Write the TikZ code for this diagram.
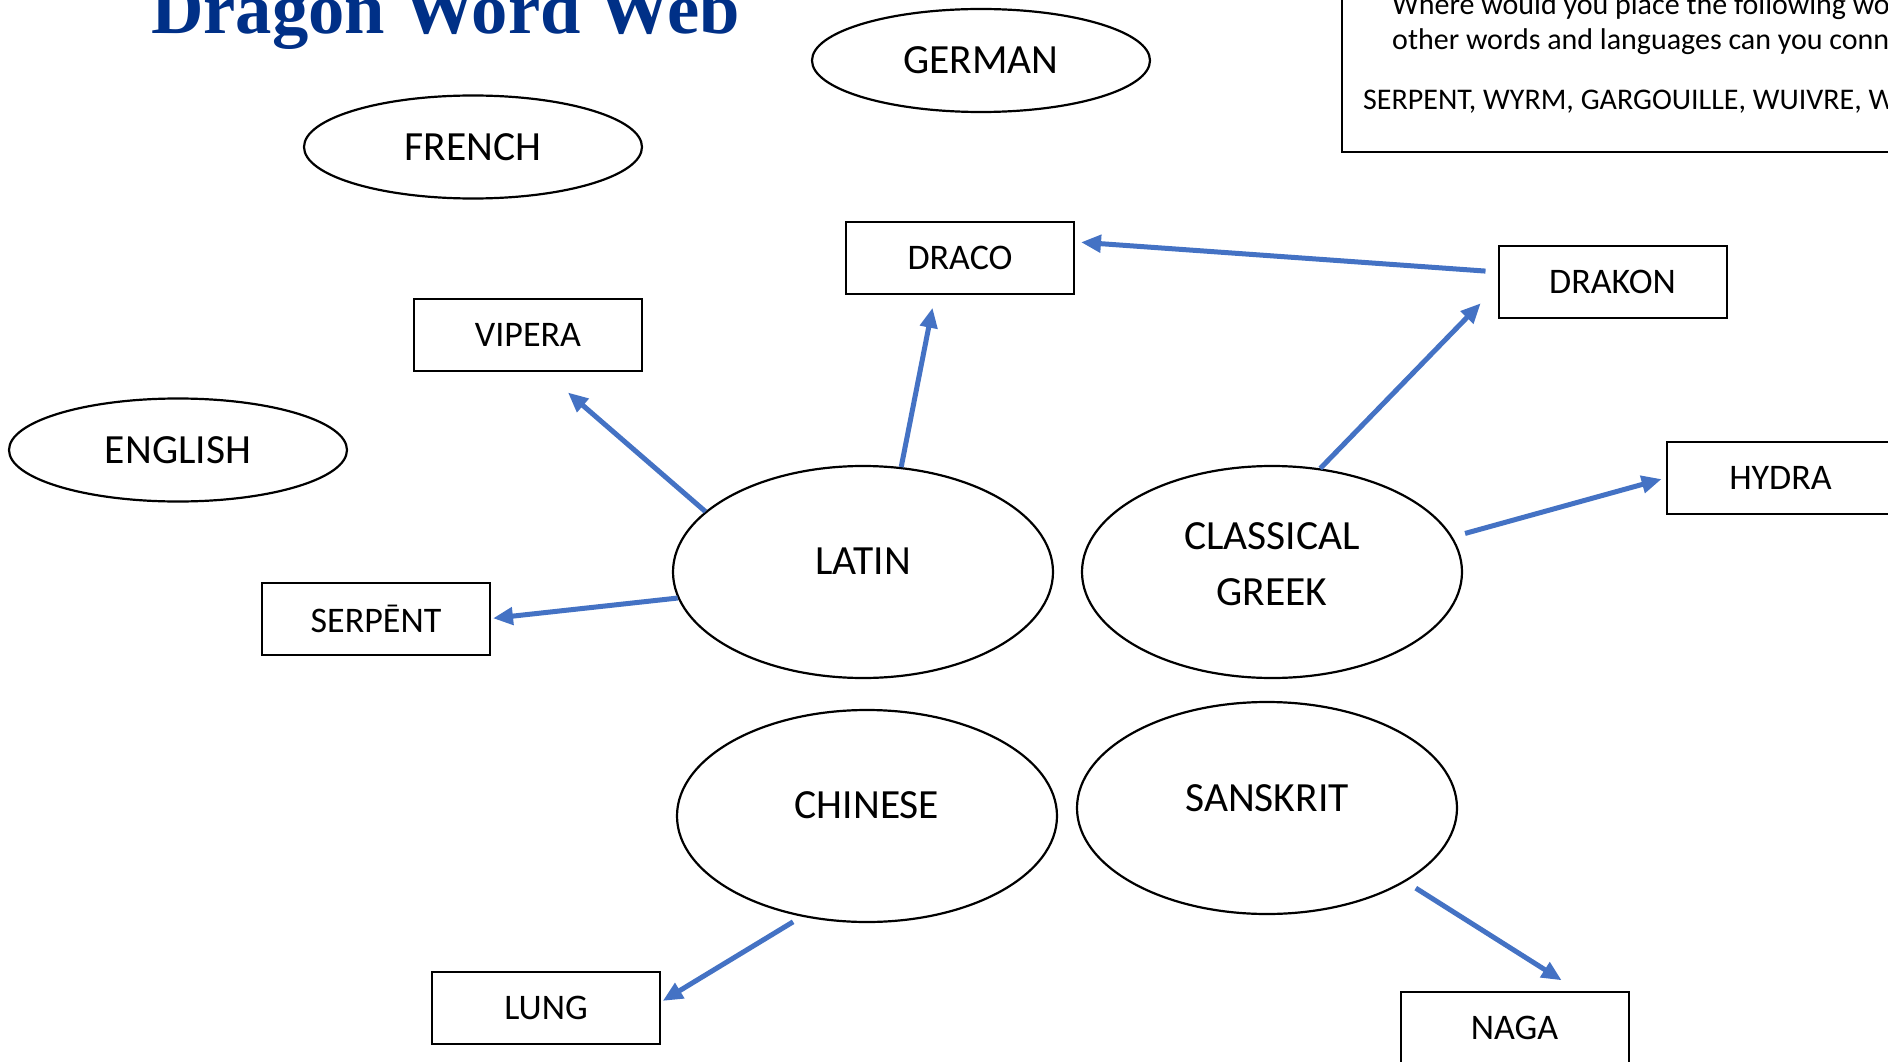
\documentclass[tikz,border=0pt]{standalone}
\usepackage{fontspec}
\setmainfont{Carlito}
\newfontfamily\titlefont{Liberation Serif}
\usetikzlibrary{arrows.meta,shapes.geometric}
\definecolor{arrblue}{HTML}{4472C4}
\definecolor{titleblue}{RGB}{0,48,135}
\tikzset{
  lang/.style={ellipse,draw=black,line width=2.2pt,inner sep=0pt,minimum width=380pt,minimum height=212pt},
  smalllang/.style={ellipse,draw=black,line width=2.2pt,inner sep=0pt,minimum width=338pt,minimum height=103pt,font=\fontsize{41.5}{50}\selectfont},
  lbl/.style={font=\fontsize{41.5}{56}\selectfont,align=center,inner sep=0pt},
  word/.style={rectangle,draw=black,line width=2pt,inner sep=0pt,minimum width=228pt,minimum height=72pt,font=\fontsize{36}{44}\selectfont},
  arr/.style={draw=arrblue,line width=5pt,-{Triangle[length=20pt,width=17pt]}},
  note/.style={anchor=base west,inner sep=0pt,font=\fontsize{30}{36}\selectfont}
}
\begin{document}
\begin{tikzpicture}[x=1pt,y=-1pt]
\useasboundingbox (0,0) rectangle (1888,1062);
\clip (0,0) rectangle (1888,1062);
\fill[white] (0,0) rectangle (1888,1062);

% title
\node[anchor=base west,inner sep=0pt,text=titleblue,font=\titlefont\bfseries\fontsize{72.6}{80}\selectfont] (title) at (151,34) {Dragon Word Web};

% instruction box
\draw[line width=2pt] (1342,-20) rectangle (1920,152);
\node[note] (note1) at (1392,15) {Where would you place the following words on the web? What};
\node[note] (note2) at (1392,50) {other words and languages can you connect?};
\node[note] (note3) at (1363,110) {SERPENT, WYRM, GARGOUILLE, WUIVRE, WYVERN};

% small language ellipses
\node[smalllang] (german) at (981,60.5) {GERMAN};
\node[smalllang] (french) at (473,147) {FRENCH};
\node[smalllang] (english) at (178,450) {ENGLISH};

% big language ellipses
\node[lang,label={[lbl,yshift=11pt]center:LATIN}] (latin) at (863,572) {};
\node[lang,label={[lbl,yshift=8pt]center:CLASSICAL\\GREEK}] (greek) at (1272,572) {};
\node[lang,label={[lbl,yshift=11pt]center:CHINESE}] (chinese) at (867,816) {};
\node[lang,label={[lbl,yshift=10pt]center:SANSKRIT}] (sanskrit) at (1267,808) {};

% words
\node[word] (draco) at (960,258) {DRACO};
\node[word] (vipera) at (528,334.5) {VIPERA};
\node[word] (drakon) at (1612.5,282) {DRAKON};
\node[word] (hydra) at (1780.5,478) {HYDRA};
\node[word] (serpent) at (376,618.5) {SERPĒNT};
\node[word] (lung) at (546,1008) {LUNG};
\node[word] (naga) at (1514.5,1028) {NAGA};

% connectors
\draw[arr,shorten >=32pt] (latin.159) -- (vipera.-67);
\draw[arr,shorten >=13pt] (latin.70) -- (draco.236);
\draw[arr,shorten >=2pt] (latin.188) -- (serpent.east);
\draw[arr,shorten <=12pt,shorten >=6pt] (drakon.175.5) -- (draco.8);
\draw[arr,shorten >=24pt] (greek.65) -- (drakon.182);
\draw[arr,shorten <=13pt,shorten >=4pt] (greek.11.5) -- (hydra.west);
\draw[arr,shorten <=10pt,shorten >=2pt] (chinese.237) -- (lung.3);
\draw[arr,shorten <=12pt,shorten >=20pt] (sanskrit.-28) -- (naga.30);
\end{tikzpicture}
\end{document}
